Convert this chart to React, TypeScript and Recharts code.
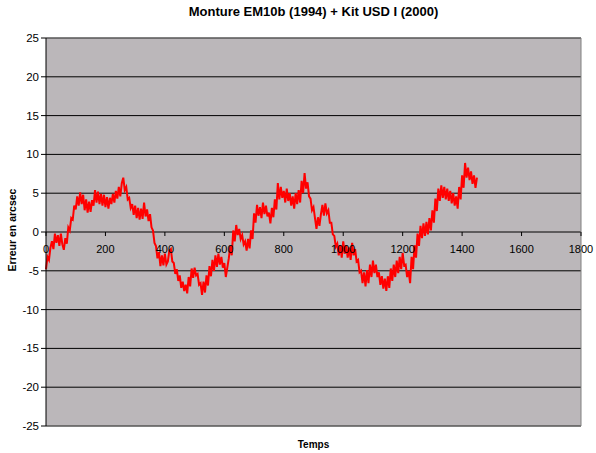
import React from 'react';
import { LineChart, Line, XAxis, YAxis, CartesianGrid, ReferenceLine } from 'recharts';

// relevé toutes les 5 unités de temps
const PAS = 5;

const erreur = [
  -4.8, -3.2, -3.6, -2.0, -1.2, -2.2, -0.2, -1.4, -0.4, -1.8,
  -0.2, -1.6, -2.3, -0.8, -1.5, 0.6, 0.2, 1.8, 1.6, 3.4,
  2.9, 4.6, 3.4, 5.1, 3.6, 4.8, 2.8, 4.2, 2.5, 3.9,
  2.6, 4.1, 3.4, 5.4, 3.8, 5.2, 3.6, 4.9, 3.4, 4.8,
  3.2, 4.5, 3.0, 4.4, 3.6, 4.9, 3.8, 5.3, 4.3, 5.8,
  4.6, 6.3, 7.0, 5.4, 5.8, 4.2, 4.4, 3.1, 3.6, 2.2,
  3.4, 1.8, 3.1, 1.6, 3.0, 1.7, 3.8, 2.0, 2.9, 1.4,
  2.3, 0.6, 0.2, -1.4, -1.8, -3.4, -2.6, -4.4, -3.0, -4.3,
  -2.8, -4.2, -3.8, -2.4, -2.2, -3.8, -4.0, -5.4, -4.8, -6.3,
  -5.6, -7.2, -6.4, -7.6, -6.8, -7.9, -5.8, -7.0, -4.7, -5.9,
  -4.6, -5.6, -5.4, -6.8, -6.6, -8.1, -6.4, -7.8, -5.6, -6.9,
  -4.4, -5.7, -3.6, -5.0, -3.0, -4.5, -2.8, -4.2, -3.2, -4.6,
  -4.0, -5.8, -4.6, -3.4, -1.8, -3.0, 0.2, -1.2, 0.9, -0.4,
  0.4, -0.9, -0.4, -1.6, -1.2, -2.4, -0.9, -2.1, 0.2, -0.9,
  2.4, 1.2, 3.5, 2.1, 3.2, 1.8, 3.8, 2.3, 3.4, 2.0,
  2.5, 1.1, 3.1, 1.9, 4.2, 2.9, 6.3, 4.2, 5.8, 4.4,
  5.3, 3.8, 5.6, 4.0, 5.0, 3.4, 4.6, 3.0, 5.0, 3.6,
  5.4, 3.8, 6.6, 5.0, 7.6, 5.6, 6.4, 4.6, 4.3, 2.8,
  3.2, 1.8, 0.4, 1.9, 0.8, 2.3, 3.5, 2.1, 3.7, 2.4,
  2.8, 1.2, 1.2, -0.3, -0.5, -1.9, -1.5, -3.0, -1.7, -3.3,
  -1.2, -2.8, -1.7, -3.3, -2.0, -3.6, -1.4, -3.0, -2.2, -3.8,
  -3.6, -5.2, -5.0, -6.6, -5.2, -7.0, -4.9, -6.6, -4.2, -5.8,
  -3.7, -5.3, -4.2, -5.8, -5.2, -6.8, -5.7, -7.3, -6.0, -7.6,
  -5.7, -7.2, -4.7, -6.3, -4.2, -5.8, -3.7, -5.3, -3.2, -4.8,
  -2.7, -4.3, -4.2, -5.8, -5.0, -6.6, -3.2, -4.8, -1.7, -3.3,
  -0.2, -1.8, 0.8, -0.8, 1.1, -0.5, 1.3, -0.3, 1.8, 0.2,
  2.8, 1.2, 4.3, 2.7, 5.6, 4.0, 6.0, 4.4, 5.8, 4.2,
  5.6, 4.0, 5.3, 3.7, 5.0, 3.4, 4.6, 3.0, 5.8, 4.2,
  7.3, 5.7, 8.9, 7.0, 8.3, 6.7, 7.8, 6.2, 7.3, 5.7,
  7.0,
];

const ticksTemps = [0, 200, 400, 600, 800, 1000, 1200, 1400, 1600, 1800];
const ticksErreur = [-25, -20, -15, -10, -5, 0, 5, 10, 15, 20, 25];

const data = erreur.map((v, i) => ({ t: i * PAS, erreur: v }));

const police = '"Liberation Sans", Arial, sans-serif';

// les graduations de l'axe des temps sont posées sur la ligne du zéro
const DEMI_HAUTEUR = 194;

const TickTemps = (props: any) => {
  const { x, y, payload } = props;
  const y0 = y - DEMI_HAUTEUR;
  return (
    <g>
      <line x1={x} x2={x} y1={y0} y2={y0 + 4} stroke="#000" />
      <text x={x} y={y0 + 21} textAnchor="middle" fontSize={11} fontFamily={police} fill="#000">
        {payload.value}
      </text>
    </g>
  );
};

export default function App() {
  return (
    <div style={{ position: 'absolute', left: 0, top: 0, width: 596, height: 453, background: '#fff', fontFamily: police }}>
      <LineChart width={596} height={453} data={data} margin={{ top: 38, right: 15, left: 0, bottom: 0 }}>
        <CartesianGrid vertical={false} stroke="#000" fill="#BBB7BA" fillOpacity={1} />
        <XAxis
          dataKey="t"
          type="number"
          domain={[0, 1800]}
          ticks={ticksTemps}
          axisLine={false}
          tickLine={false}
          tickSize={0}
          tickMargin={0}
          height={27}
          tick={<TickTemps />}
          interval={0}
        />
        <YAxis
          type="number"
          domain={[-25, 25]}
          ticks={ticksErreur}
          width={46}
          interval={0}
          tickSize={5}
          tickMargin={2}
          axisLine={{ stroke: '#000' }}
          tickLine={{ stroke: '#000' }}
          tick={{ fill: '#000', fontSize: 11.5, fontFamily: police }}
        />
        <ReferenceLine y={25} stroke="#808080" />
        <ReferenceLine y={-25} stroke="#808080" />
        <ReferenceLine x={1800} stroke="#808080" />
        <Line
          type="linear"
          dataKey="erreur"
          stroke="#FF0000"
          strokeWidth={2}
          dot={false}
          isAnimationActive={false}
        />
      </LineChart>
      <div style={{ position: 'absolute', top: 4, left: 46, width: 535, textAlign: 'center', fontWeight: 'bold', fontSize: 13 }}>
        Monture EM10b (1994) + Kit USD I (2000)
      </div>
      <div style={{ position: 'absolute', top: 439, left: 46, width: 535, textAlign: 'center', fontWeight: 'bold', fontSize: 10 }}>
        Temps
      </div>
      <div
        style={{
          position: 'absolute',
          left: 12,
          top: 230,
          transform: 'translate(-50%, -50%) rotate(-90deg)',
          whiteSpace: 'nowrap',
          fontWeight: 'bold',
          fontSize: 10.5,
        }}
      >
        Erreur en arcsec
      </div>
    </div>
  );
}
